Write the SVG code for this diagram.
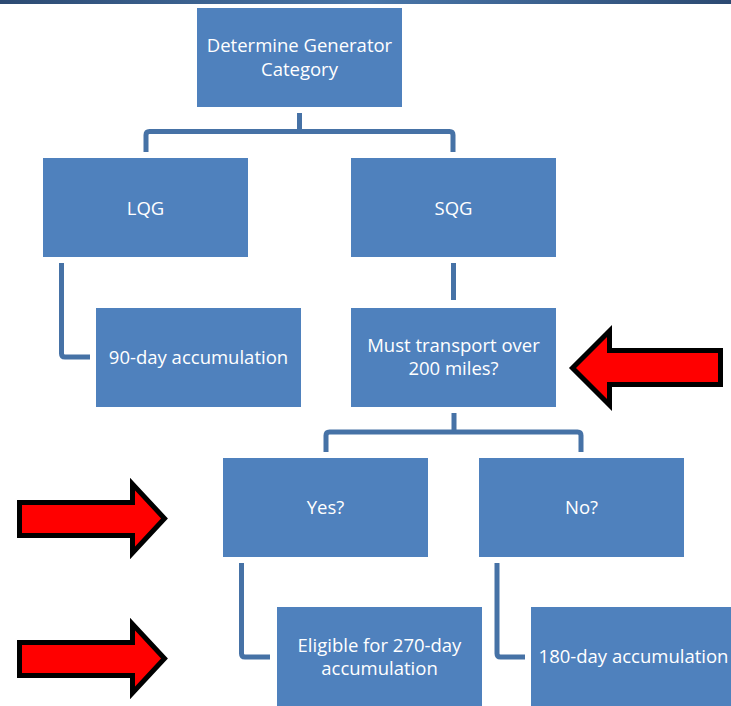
<svg xmlns="http://www.w3.org/2000/svg" width="731" height="706" viewBox="0 0 731 706">
<defs>
<linearGradient id="band" x1="0" y1="0" x2="1" y2="0">
<stop offset="0" stop-color="#2c4a72"/>
<stop offset="0.5" stop-color="#4a77aa"/>
<stop offset="1" stop-color="#2c4a72"/>
</linearGradient>
</defs>
<style>
.box{fill:#4F81BD;}
.t{fill:#ffffff;font-family:"Open Sans","Noto Sans",sans-serif;font-size:18.5px;text-anchor:middle;}
.c{fill:none;stroke:#4672a6;stroke-width:5;stroke-linejoin:round;}
.arr{fill:#ff0000;stroke:#000000;stroke-width:5;stroke-linejoin:miter;}
</style>
<rect width="731" height="706" fill="#ffffff"/>
<rect x="0" y="0" width="731" height="4" fill="url(#band)"/>
<g id="connectors">
<path class="c" d="M299.5,113 V131.5 M146,152 V135 Q146,131.5 149.5,131.5 H449.5 Q453,131.5 453,135 V152"/>
<path class="c" d="M61.5,263 V353.5 Q61.5,357 65,357 H90"/>
<path class="c" d="M453.5,263 V300"/>
<path class="c" d="M454,413 V432 M326,452 V435.5 Q326,432 329.5,432 H577.5 Q581,432 581,435.5 V452"/>
<path class="c" d="M241.5,563 V653.5 Q241.5,657 245,657 H270"/>
<path class="c" d="M497,563 V653.5 Q497,657 500.5,657 H525"/>
</g>
<g id="n1"><rect class="box" x="197" y="8" width="205" height="99"/><text class="t" x="299.5" y="52">Determine Generator</text><text class="t" x="299.5" y="76">Category</text></g>
<g id="n2"><rect class="box" x="43" y="158" width="205" height="99"/><text class="t" x="145.5" y="215">LQG</text></g>
<g id="n3"><rect class="box" x="351" y="158" width="205" height="99"/><text class="t" x="453.5" y="215">SQG</text></g>
<g id="n4"><rect class="box" x="96" y="308" width="205" height="99"/><text class="t" x="198.5" y="364">90-day accumulation</text></g>
<g id="n5"><rect class="box" x="351" y="308" width="205" height="99"/><text class="t" x="453.5" y="352">Must transport over</text><text class="t" x="453.5" y="375">200 miles?</text></g>
<g id="n6"><rect class="box" x="223" y="458" width="205" height="99"/><text class="t" x="325.5" y="514">Yes?</text></g>
<g id="n7"><rect class="box" x="479" y="458" width="205" height="99"/><text class="t" x="581.5" y="514">No?</text></g>
<g id="n8"><rect class="box" x="277" y="607" width="205" height="99"/><text class="t" x="379.5" y="652">Eligible for 270-day</text><text class="t" x="379.5" y="675">accumulation</text></g>
<g id="n9"><rect class="box" x="531" y="607" width="205" height="99"/><text class="t" x="633.5" y="663">180-day accumulation</text></g>
<g id="arrows">
<polygon class="arr" points="19.5,502.5 132.5,502.5 132.5,484 164.5,518.5 132.5,553 132.5,535.5 19.5,535.5"/>
<polygon class="arr" points="19.5,642.5 132.5,642.5 132.5,624 164.5,658.5 132.5,693 132.5,675.5 19.5,675.5"/>
<polygon class="arr" points="720.5,350.5 609.5,350.5 609.5,331 572.5,368 609.5,405 609.5,384.5 720.5,384.5"/>
</g>
</svg>
